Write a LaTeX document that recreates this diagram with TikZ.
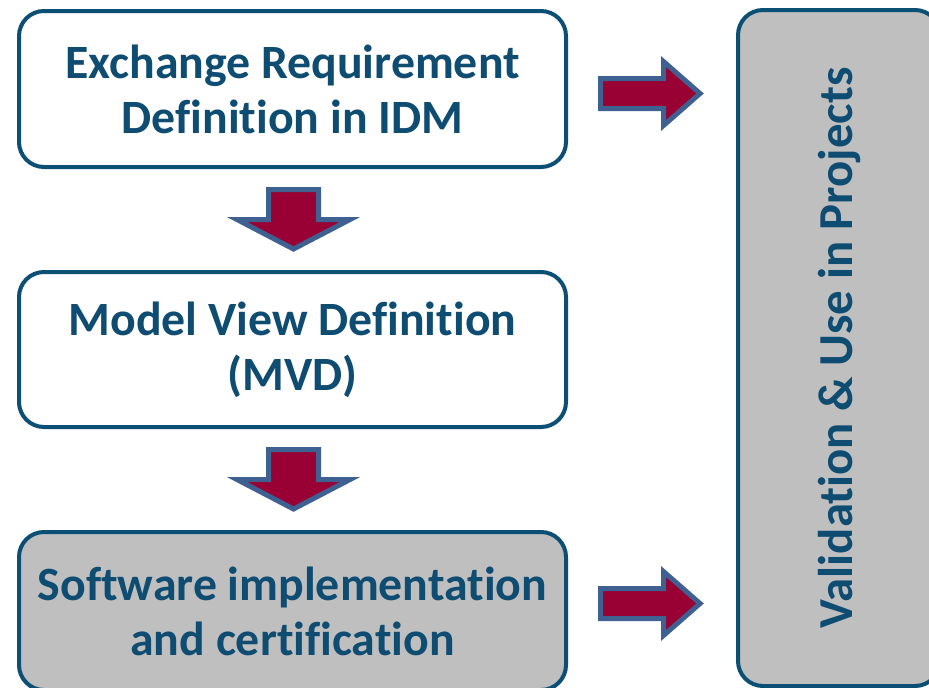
\documentclass[tikz,border=0pt]{standalone}
\usepackage{fontspec}
\setmainfont{Carlito}[Ligatures=NoCommon]
\definecolor{txtblue}{HTML}{0F4C71}
\definecolor{boxblue}{HTML}{0B4F75}
\definecolor{arrred}{HTML}{990033}
\definecolor{arrblue}{HTML}{3E6191}
\definecolor{boxgrey}{HTML}{BFBFBF}
\tikzset{
  stagebox/.style={draw=boxblue, line width=4pt, rounded corners=25pt, inner sep=0pt,
    minimum width=547pt, align=center, text=txtblue,
    font=\fontsize{47.8}{55}\selectfont\bfseries},
  blockarrow/.style={draw=arrblue, fill=arrred, line width=5pt, line join=miter}
}
\begin{document}
\begin{tikzpicture}[x=1pt,y=-1pt]
\useasboundingbox (0,0) rectangle (929,688);
\clip (0,0) rectangle (929,688);
\fill[white] (0,0) rectangle (929,688);
\node[stagebox, fill=white, minimum height=156pt] (erd) at (292.5,89) {Exchange Requirement\\Definition in IDM};
\node[stagebox, fill=white, minimum height=155pt] (mvd) at (292.5,349.5) {Model View Definition\\(MVD)};
\node[stagebox, fill=boxgrey, minimum height=158pt] (soft) at (292.5,611) {Software implementation\\and certification};
\node[stagebox, fill=boxgrey, minimum width=676pt, minimum height=202pt, rotate=90, font=\fontsize{48.8}{55}\selectfont\bfseries] (val) at (839,348) {Validation \& Use in Projects};
% block arrows
\draw[blockarrow] (600.5,78.5) -- (663.5,78.5) -- (663.5,61.5) -- (700,93.5) -- (663.5,125.5) -- (663.5,108.5) -- (600.5,108.5) -- cycle;
\draw[blockarrow] (600.5,588.5) -- (663.5,588.5) -- (663.5,571.5) -- (700,603.5) -- (663.5,635.5) -- (663.5,618.5) -- (600.5,618.5) -- cycle;
\draw[blockarrow] (268.5,189.5) -- (318.5,189.5) -- (318.5,219.5) -- (350,219.5) -- (293.5,249) -- (237,219.5) -- (268.5,219.5) -- cycle;
\draw[blockarrow] (268.5,449.5) -- (318.5,449.5) -- (318.5,479.5) -- (350,479.5) -- (293.5,509) -- (237,479.5) -- (268.5,479.5) -- cycle;
\end{tikzpicture}
\end{document}
